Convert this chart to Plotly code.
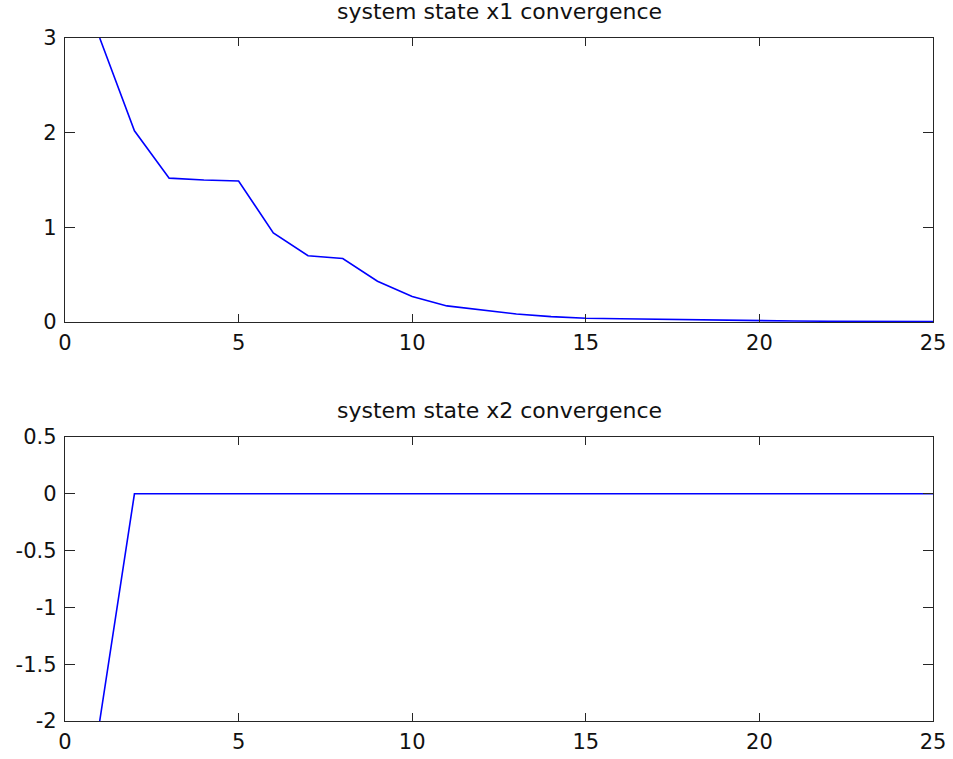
import plotly.graph_objects as go

# Discrete time steps
steps = list(range(1, 26))

# State trajectories
x1_values = [3.0, 2.02, 1.52, 1.50, 1.49, 0.94, 0.70, 0.67, 0.43, 0.27,
             0.17, 0.125, 0.085, 0.057, 0.04, 0.035, 0.03, 0.018, 0.015, 0.012,
             0.01, 0.008, 0.007, 0.006, 0.005]
x2_values = [-2.0] + [0.0] * 24

# Axis ticks
x_ticks = [0, 5, 10, 15, 20, 25]
x_tick_text = ["0", "5", "10", "15", "20", "25"]
y1_ticks = [0, 1, 2, 3]
y1_tick_text = ["0", "1", "2", "3"]
y2_ticks = [-2, -1.5, -1, -0.5, 0, 0.5]
y2_tick_text = ["-2", "-1.5", "-1", "-0.5", "0", "0.5"]

titles = ["system state x1 convergence", "system state x2 convergence"]

FONT = "DejaVu Sans"
FS = 21
LINE_BLUE = "#0000ff"
AX_COLOR = "#262626"

fig = go.Figure()
fig.add_trace(go.Scatter(x=steps, y=x1_values, mode="lines",
                         line=dict(color=LINE_BLUE, width=1.6),
                         xaxis="x", yaxis="y", showlegend=False))
fig.add_trace(go.Scatter(x=steps, y=x2_values, mode="lines",
                         line=dict(color=LINE_BLUE, width=1.6),
                         xaxis="x2", yaxis="y2", showlegend=False))

common = dict(showline=True, linecolor=AX_COLOR, linewidth=1.4, mirror="ticks",
              ticks="inside", tickcolor=AX_COLOR, tickwidth=1.2,
              showgrid=False, zeroline=False, automargin=False,
              tickfont=dict(family=FONT, size=FS, color="#111111"))

top_dom = [0.5842, 1.0]
bot_dom = [0.0, 0.4158]

fig.update_layout(
    template="none",
    width=953, height=759,
    margin=dict(l=65, r=20, t=38, b=38, autoexpand=False),
    paper_bgcolor="white", plot_bgcolor="white",
    xaxis=dict(domain=[0, 1], range=[0, 25], anchor="y",
               tickvals=x_ticks, ticktext=x_tick_text, ticklen=8,
               ticklabelstandoff=2, **common),
    yaxis=dict(domain=top_dom, range=[0, 3], anchor="x",
               tickvals=y1_ticks, ticktext=y1_tick_text, ticklen=10,
               ticklabelstandoff=3, **common),
    xaxis2=dict(domain=[0, 1], range=[0, 25], anchor="y2",
                tickvals=x_ticks, ticktext=x_tick_text, ticklen=8,
                ticklabelstandoff=2, **common),
    yaxis2=dict(domain=bot_dom, range=[-2, 0.5], anchor="x2",
                tickvals=y2_ticks, ticktext=y2_tick_text, ticklen=10,
                ticklabelstandoff=3, **common),
    annotations=[
        dict(text=titles[0], xref="paper", yref="paper", x=0.5, y=top_dom[1],
             xanchor="center", yanchor="bottom", yshift=12, showarrow=False,
             font=dict(family=FONT, size=22, color="#111111")),
        dict(text=titles[1], xref="paper", yref="paper", x=0.5, y=bot_dom[1],
             xanchor="center", yanchor="bottom", yshift=12, showarrow=False,
             font=dict(family=FONT, size=22, color="#111111")),
    ],
)

fig.write_html("out.html")
